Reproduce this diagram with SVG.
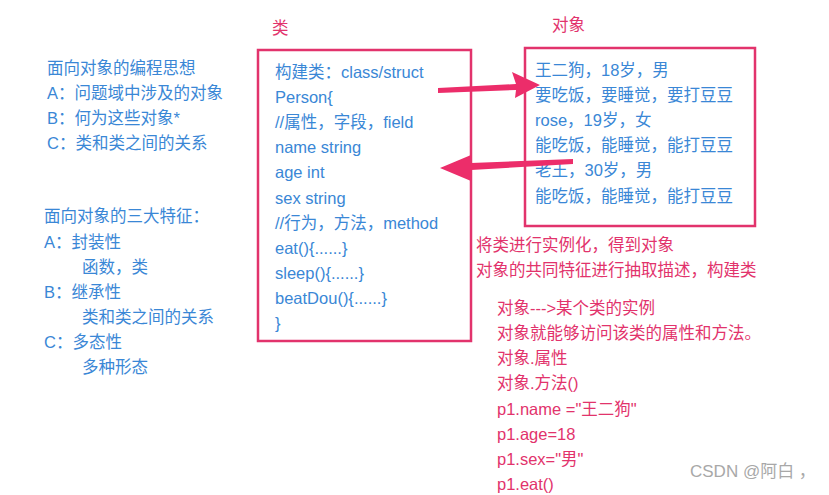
<svg xmlns="http://www.w3.org/2000/svg" width="829" height="495" viewBox="0 0 829 495">
<style>
text{font-family:"Liberation Sans","Noto Sans CJK SC",sans-serif;font-size:16.5px;dominant-baseline:central}
.b{fill:#3a87d6}
.r{fill:#e2336c}
.box{fill:none;stroke:#e2336c;stroke-width:2.5}
.arw{fill:#ec2d6a}
.wm{fill:#a8a8a8;font-size:17px}
</style>
<rect width="829" height="495" fill="#ffffff"/>
<g id="intro" class="b">
<text x="47" y="68">面向对象的编程思想</text>
<text x="47" y="93">A：问题域中涉及的对象</text>
<text x="47" y="118">B：何为这些对象*</text>
<text x="47" y="143">C：类和类之间的关系</text>
</g>
<g id="features" class="b">
<text x="44" y="216">面向对象的三大特征：</text>
<text x="44" y="242">A：封装性</text>
<text x="82" y="267">函数，类</text>
<text x="44" y="292">B：继承性</text>
<text x="82" y="317">类和类之间的关系</text>
<text x="44" y="342">C：多态性</text>
<text x="82" y="367">多种形态</text>
</g>
<g id="class">
<text class="r" x="272" y="28">类</text>
<rect class="box" x="258" y="50" width="213" height="291"/>
<g class="b">
<text x="275" y="72">构建类：class/struct</text>
<text x="275" y="97">Person{</text>
<text x="275" y="122">//属性，字段，field</text>
<text x="275" y="147">name string</text>
<text x="275" y="172">age int</text>
<text x="275" y="198">sex string</text>
<text x="275" y="223">//行为，方法，method</text>
<text x="275" y="248">eat(){......}</text>
<text x="275" y="273">sleep(){......}</text>
<text x="275" y="298">beatDou(){......}</text>
<text x="275" y="323">}</text>
</g>
</g>
<g id="object">
<text class="r" x="552" y="25">对象</text>
<rect class="box" x="525" y="48" width="230" height="178"/>
<g class="b">
<text x="535" y="70">王二狗，18岁，男</text>
<text x="535" y="95">要吃饭，要睡觉，要打豆豆</text>
<text x="535" y="120">rose，19岁，女</text>
<text x="535" y="145">能吃饭，能睡觉，能打豆豆</text>
<text x="535" y="170">老王，30岁，男</text>
<text x="535" y="196">能吃饭，能睡觉，能打豆豆</text>
</g>
</g>
<g id="notes" class="r">
<text x="476" y="245">将类进行实例化，得到对象</text>
<text x="476" y="270">对象的共同特征进行抽取描述，构建类</text>
<text x="497" y="308">对象---&gt;某个类的实例</text>
<text x="497" y="333">对象就能够访问该类的属性和方法。</text>
<text x="497" y="358">对象.属性</text>
<text x="497" y="383">对象.方法()</text>
<text x="497" y="409">p1.name ="王二狗"</text>
<text x="497" y="434">p1.age=18</text>
<text x="497" y="459">p1.sex="男"</text>
<text x="497" y="484">p1.eat()</text>
</g>
<text class="wm" x="690" y="471">CSDN @阿白 ，</text>
<g id="connectors">
<path class="arw" d="M438,88 L516,84 L512,72 L540,85 L515,98 L516,90 L438,93 Z"/>
<path class="arw" d="M573,159 L471,163 L471,155 L440,168 L471,181 L471,170 L573,164 Z"/>
</g>
</svg>
